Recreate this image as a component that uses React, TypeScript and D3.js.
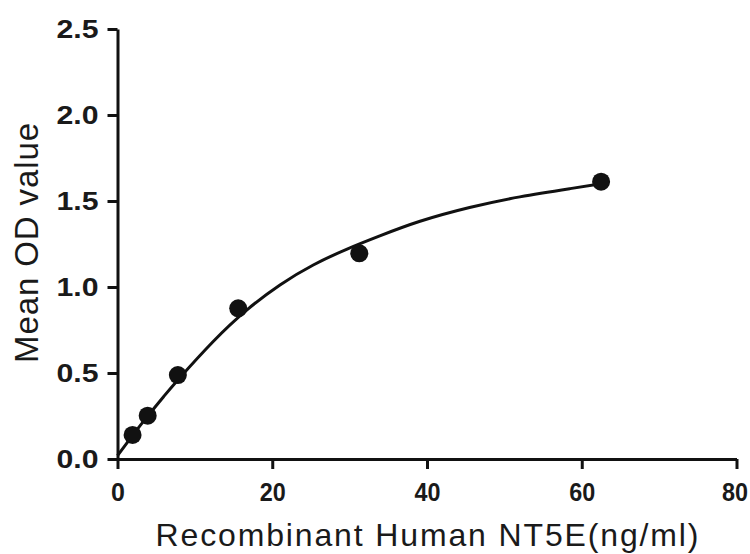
import React, { useRef, useEffect } from 'react'
import * as d3 from 'd3'

// standards (ng/ml) and mean OD
const conc = [1.95, 3.9, 7.8, 15.6, 31.25, 62.5]
const od = [0.14, 0.252, 0.488, 0.876, 1.196, 1.612]

// fitted curve
const fitX = [0, 2, 4, 6, 8, 12.4, 16.7, 21, 25.3, 29.6, 33.9, 39.1, 45.5, 52, 58.5, 62.5]
const fitY = [0.02, 0.14, 0.255, 0.365, 0.47, 0.685, 0.866, 1.012, 1.128, 1.219, 1.297, 1.382, 1.462, 1.524, 1.572, 1.6]

const xTicks = [0, 20, 40, 60, 80]
const yTicks = [0, 0.5, 1.0, 1.5, 2.0, 2.5]

const xTitle = 'Recombinant Human NT5E(ng/ml)'
const yTitle = 'Mean OD value'

const W = 750
const H = 554
const FONT = '"Liberation Sans", Arial, sans-serif'

export default function App() {
  const ref = useRef<SVGSVGElement>(null)

  useEffect(() => {
    const el = ref.current
    if (!el) return
    const svg = d3.select(el)
    svg.selectAll('*').remove()

    const x = d3.scaleLinear().domain([0, 80]).range([117.5, 736.5])
    const y = d3.scaleLinear().domain([0, 2.5]).range([459, 29])

    const xAxis = d3.axisBottom(x).tickValues(xTicks).tickSize(10).tickSizeOuter(0).tickPadding(14).tickFormat(d3.format('d'))
    const yAxis = d3.axisLeft(y).tickValues(yTicks).tickSize(10).tickSizeOuter(0).tickPadding(9).tickFormat(d3.format('.1f'))

    const gx = svg.append('g').attr('transform', `translate(0, ${y(0)})`).call(xAxis)
    const gy = svg.append('g').attr('transform', `translate(${x(0)}, 0)`).call(yAxis)

    for (const g of [gx, gy]) {
      g.selectAll('.domain, .tick line').attr('stroke', '#111').attr('stroke-width', 3)
      g.selectAll('text')
        .attr('fill', '#1a1a1a')
        .style('font-family', FONT)
        .style('font-weight', 'bold')
    }
    gx.selectAll<SVGTextElement, number>('text')
      .style('font-size', '25px')
      .each(function (d) {
        if (String(d).length > 1) {
          d3.select(this).attr('textLength', 26).attr('lengthAdjust', 'spacingAndGlyphs')
        }
        // keep the last label inside the picture
        if (d === xTicks[xTicks.length - 1]) {
          d3.select(this).attr('text-anchor', 'end').attr('dx', 11)
        }
      })
    gy.selectAll('text').style('font-size', '26px')
      .attr('textLength', 42).attr('lengthAdjust', 'spacingAndGlyphs')

    const pts = conc.map((c, i) => ({ c, v: od[i] }))
    const fit = fitX.map((c, i) => ({ c, v: fitY[i] }))

    const line = d3.line<{ c: number; v: number }>().x(d => x(d.c)).y(d => y(d.v)).curve(d3.curveNatural)

    svg.append('path')
      .datum(fit)
      .attr('fill', 'none')
      .attr('stroke', '#111')
      .attr('stroke-width', 3)
      .attr('d', line)

    svg.append('g')
      .selectAll('circle')
      .data(pts)
      .join('circle')
      .attr('cx', d => x(d.c))
      .attr('cy', d => y(d.v))
      .attr('r', 9)
      .attr('fill', '#111')

    svg.append('text')
      .attr('x', (x.range()[0] + x.range()[1]) / 2)
      .attr('y', 546)
      .attr('text-anchor', 'middle')
      .attr('textLength', 543)
      .attr('lengthAdjust', 'spacing')
      .style('font-family', FONT)
      .style('font-size', '32px')
      .attr('fill', '#1a1a1a')
      .text(xTitle)

    svg.append('text')
      .attr('transform', `translate(38, 243) rotate(-90)`)
      .attr('text-anchor', 'middle')
      .attr('textLength', 240)
      .attr('lengthAdjust', 'spacing')
      .style('font-family', FONT)
      .style('font-size', '33px')
      .attr('fill', '#1a1a1a')
      .text(yTitle)
  }, [])

  return (
    <svg
      ref={ref}
      width={W}
      height={H}
      style={{ position: 'absolute', left: 0, top: 0, background: '#fff' }}
    />
  )
}
